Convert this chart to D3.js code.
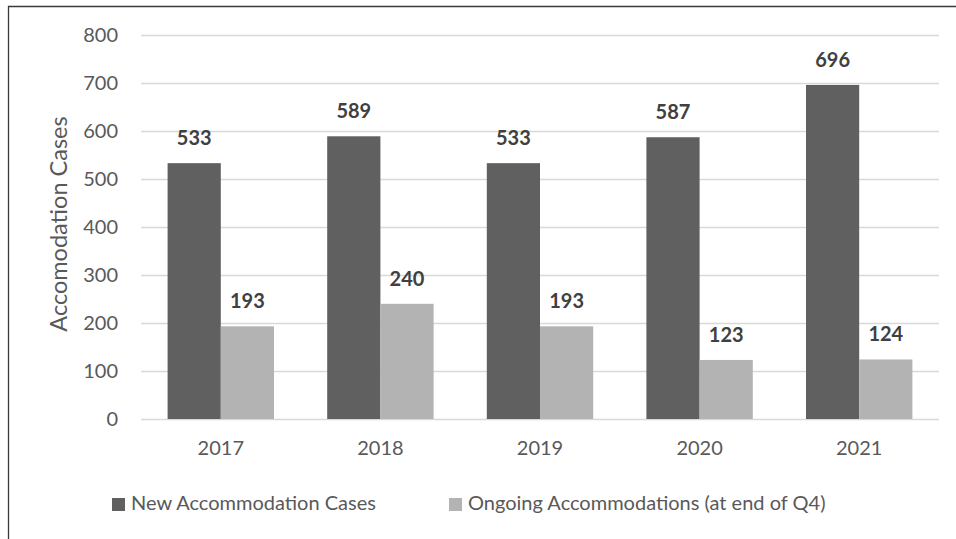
<!DOCTYPE html>
<html>
<head>
<meta charset="utf-8">
<script src="https://cdn.jsdelivr.net/npm/d3@7"></script>
<style>
  html, body { margin: 0; padding: 0; background: #fff; }
  svg { display: block; }
</style>
</head>
<body>
<svg id="chart"></svg>
<script>
const years = ["2017", "2018", "2019", "2020", "2021"];
const newCases = [533, 589, 533, 587, 696];
const ongoing = [193, 240, 193, 123, 124];
const seriesNames = ["New Accommodation Cases", "Ongoing Accommodations (at end of Q4)"];
const seriesColors = ["#606060", "#b3b3b3"];
const yTicks = [0, 100, 200, 300, 400, 500, 600, 700, 800];

const W = 956, H = 539;
const m = { top: 35, right: 17, bottom: 120, left: 141 };
const iW = W - m.left - m.right;
const iH = H - m.top - m.bottom;
const FONT = "Lato, 'Open Sans', sans-serif";

const svg = d3.select("#chart").attr("width", W).attr("height", H);

// outer frame (left + top edges visible)
svg.append("path")
  .attr("d", `M8.5,${H} L8.5,6.5 L${W},6.5`)
  .attr("fill", "none").attr("stroke", "#3a3a3a").attr("stroke-width", 1.3);

const g = svg.append("g").attr("transform", `translate(${m.left},${m.top})`);

const x0 = d3.scaleBand().domain(years).range([0, iW]).paddingInner(0).paddingOuter(0);
const x1 = d3.scaleBand().domain([0, 1]).range([x0.bandwidth() / 6, x0.bandwidth() * 5 / 6]);
const y = d3.scaleLinear().domain([0, 800]).range([iH, 0]);

// Grid
g.append("g").selectAll("line")
  .data(yTicks).join("line")
  .attr("x1", 0).attr("x2", iW)
  .attr("y1", d => Math.round(y(d)) + 0.5).attr("y2", d => Math.round(y(d)) + 0.5)
  .attr("stroke", "#d9d9d9").attr("stroke-width", 1.3);

// Y axis labels
g.append("g")
  .call(d3.axisLeft(y).tickValues(yTicks).tickSize(0).tickPadding(23))
  .call(ax => {
    ax.select(".domain").remove();
    ax.selectAll(".tick text").style("fill", "#595959").style("font-size", "20px").style("font-family", FONT);
  });

// X axis labels
g.append("g")
  .attr("transform", `translate(0,${iH})`)
  .call(d3.axisBottom(x0).tickSize(0).tickPadding(22))
  .call(ax => {
    ax.select(".domain").remove();
    ax.selectAll(".tick text").style("fill", "#595959").style("font-size", "20px").style("font-family", FONT);
  });

// Bars
const rows = years.map((yr, i) => ({ year: yr, vals: [newCases[i], ongoing[i]] }));
const grp = g.selectAll(".yr").data(rows).join("g")
  .attr("class", "yr")
  .attr("transform", d => `translate(${x0(d.year)},0)`);

grp.selectAll("rect")
  .data(d => d.vals.map((v, k) => ({ v, k })))
  .join("rect")
  .attr("x", d => x1(d.k)).attr("width", x1.bandwidth())
  .attr("y", d => y(d.v)).attr("height", d => iH - y(d.v))
  .attr("fill", d => seriesColors[d.k]);

grp.selectAll("text.lbl")
  .data(d => d.vals.map((v, k) => ({ v, k })))
  .join("text")
  .attr("class", "lbl")
  .attr("x", d => x1(d.k) + x1.bandwidth() / 2)
  .attr("y", d => y(d.v) - 18)
  .attr("text-anchor", "middle")
  .style("fill", "#404040").style("font-size", "20px").style("font-weight", "bold").style("font-family", FONT)
  .text(d => d.v);

// Y axis title
svg.append("text")
  .attr("transform", `translate(67,${m.top + iH / 2 - 3}) rotate(-90)`)
  .attr("text-anchor", "middle")
  .style("fill", "#595959").style("font-size", "23.5px").style("font-family", FONT)
  .text("Accomodation Cases");

// Legend
const legX = [112, 449];
seriesNames.forEach((name, i) => {
  svg.append("rect")
    .attr("x", legX[i]).attr("y", 498).attr("width", 13).attr("height", 13)
    .attr("fill", seriesColors[i]);
  svg.append("text")
    .attr("x", legX[i] + 19).attr("y", 510)
    .style("fill", "#595959").style("font-size", "20px").style("font-family", FONT)
    .text(name);
});
</script>
</body>
</html>
